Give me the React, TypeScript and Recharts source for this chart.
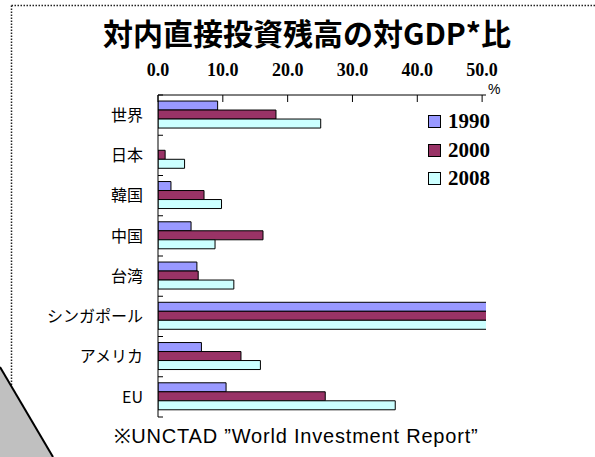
import React from 'react';
import { BarChart, Bar, XAxis, YAxis } from 'recharts';

// 対内直接投資残高の対GDP比 (%)
const countries = ['世界', '日本', '韓国', '中国', '台湾', 'シンガポール', 'アメリカ', 'EU'];
const fdi1990 = [9.2, 0, 2.0, 5.1, 6.0, 83.1, 6.7, 10.5];
const fdi2000 = [18.2, 1.1, 7.1, 16.2, 6.2, 121.5, 12.8, 25.8];
// Singapore runs off the axis in the original, values are estimates
const fdi2008 = [25.1, 4.1, 9.8, 8.8, 11.7, 158.0, 15.8, 36.6];

const seriesKeys = ['y1990', 'y2000', 'y2008'];
const seriesNames = ['1990', '2000', '2008'];
const seriesColors = ['#9999FF', '#993366', '#CCFFFF'];

const xTicks = [0, 10, 20, 30, 40, 50];

const data = countries.map((name, i) => ({
  name,
  y1990: fdi1990[i],
  y2000: fdi2000[i],
  y2008: fdi2008[i],
}));

const serif = '"Liberation Serif", "Times New Roman", serif';
const gothic = '"Noto Sans CJK JP", "Noto Sans", sans-serif';
const catMargin = 15;

const TopTick = (props: any) => {
  const { x, y, payload } = props;
  return (
    <text
      x={x}
      y={y}
      textAnchor="middle"
      fontFamily={serif}
      fontWeight="bold"
      fontSize={18}
      fill="#000"
    >
      {Number(payload.value).toFixed(1)}
    </text>
  );
};

// category label + Excel-style tick marks between the categories
const CatTick = (props: any) => {
  const { x, y, payload, index, visibleTicksCount } = props;
  const half = payload.offset || 0;
  const ax = x + catMargin;
  const last = index === visibleTicksCount - 1;
  return (
    <g>
      <line x1={ax} x2={ax + 5} y1={y - half} y2={y - half} stroke="#000" />
      {last && <line x1={ax} x2={ax + 5} y1={y + half} y2={y + half} stroke="#000" />}
      <text
        x={x}
        y={y}
        dy="0.36em"
        textAnchor="end"
        fontFamily={gothic}
        fontSize={16}
        fill="#000"
      >
        {payload.value}
      </text>
    </g>
  );
};

export default function App() {
  return (
    <div
      style={{
        position: 'absolute',
        left: 0,
        top: 0,
        width: 595,
        height: 457,
        background: '#fff',
        overflow: 'hidden',
      }}
    >
      <BarChart
        layout="vertical"
        width={595}
        height={457}
        data={data}
        margin={{ top: 49, right: 109, bottom: 40, left: 8 }}
        barCategoryGap="15%"
        barGap={0}
      >
        <XAxis
          type="number"
          orientation="top"
          domain={[0, 50.6]}
          ticks={xTicks}
          allowDataOverflow
          interval={0}
          height={46}
          axisLine={{ stroke: '#000' }}
          tickLine={{ stroke: '#000' }}
          tickSize={-7}
          tickMargin={26}
          tick={TopTick}
        />
        <YAxis
          type="category"
          dataKey="name"
          width={150}
          interval={0}
          axisLine={{ stroke: '#000' }}
          tickLine={false}
          tickSize={0}
          tickMargin={catMargin}
          tick={CatTick}
        />
        {seriesKeys.map((k, i) => (
          <Bar
            key={k}
            dataKey={k}
            name={seriesNames[i]}
            fill={seriesColors[i]}
            stroke="#000"
            strokeWidth={1}
            isAnimationActive={false}
          />
        ))}
      </BarChart>

      {/* legend */}
      <div style={{ position: 'absolute', left: 428, top: 107, display: 'flex', flexDirection: 'column' }}>
        {seriesNames.map((n, i) => (
          <div key={n} style={{ display: 'flex', alignItems: 'center', height: 28.7 }}>
            <span
              style={{
                width: 11,
                height: 11,
                border: '1.5px solid #000',
                background: seriesColors[i],
                marginRight: 7,
              }}
            />
            <span
              style={{
                fontFamily: serif,
                fontWeight: 'bold',
                fontSize: 21,
                color: '#000',
                lineHeight: '21px',
              }}
            >
              {n}
            </span>
          </div>
        ))}
      </div>

      <svg
        width={595}
        height={457}
        style={{ position: 'absolute', left: 0, top: 0, pointerEvents: 'none' }}
      >
        <line x1={11.5} y1={5.5} x2={595} y2={5.5} stroke="#222" strokeWidth={1.5} strokeDasharray="1.5 1.5" />
        <line x1={11.5} y1={5.5} x2={11.5} y2={385} stroke="#222" strokeWidth={1.5} strokeDasharray="1.5 1.5" />
        <polygon points="0,367 53,457 0,457" fill="#c0c0c0" />
        <line x1={0} y1={367} x2={53} y2={457} stroke="#000" strokeWidth={2} />
        <text
          x={307}
          y={45}
          textAnchor="middle"
          fontFamily={gothic}
          fontWeight="bold"
          fontSize={30}
          fill="#000"
        >
          対内直接投資残高の対GDP*比
        </text>
        <text x={488} y={94} fontFamily='"Liberation Sans", Arial, sans-serif' fontSize={14} fill="#000">
          %
        </text>
        <text
          x={296}
          y={443}
          textAnchor="middle"
          fontFamily='"Liberation Sans", Arial, sans-serif'
          fontSize={20}
          letterSpacing={0.8}
          fill="#000"
        >
          ※UNCTAD ”World Investment Report”
        </text>
      </svg>
    </div>
  );
}
